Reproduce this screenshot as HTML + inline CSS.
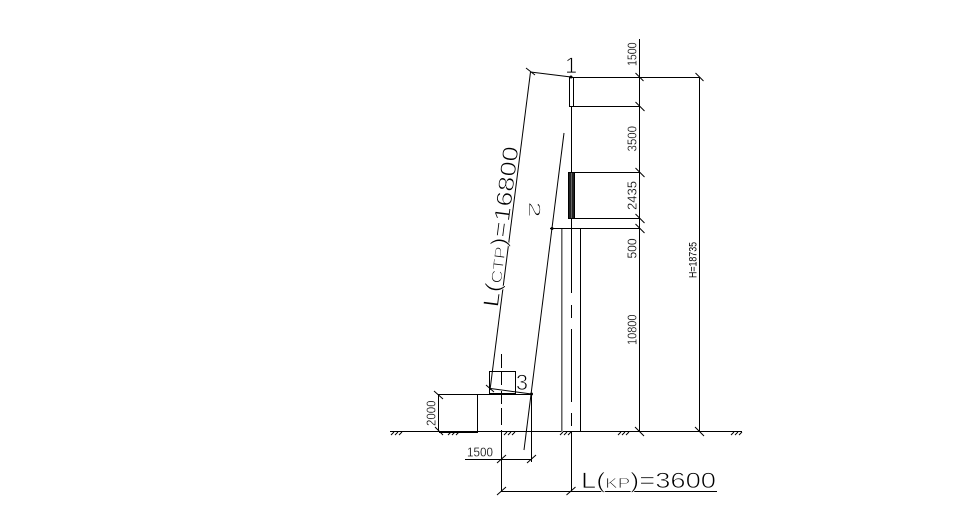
<!DOCTYPE html>
<html><head><meta charset="utf-8"><style>
html,body{margin:0;padding:0;background:#fff}
svg{display:block}
text{font-family:"Liberation Sans",sans-serif;fill:#000}
.t{font-size:12.5px;stroke:#fff;stroke-width:.2px}
.b{font-size:22px;stroke:#fff;stroke-width:.7px}
</style></head><body>
<svg width="980" height="510" viewBox="0 0 980 510" xmlns="http://www.w3.org/2000/svg">
<rect width="980" height="510" fill="#fff"/>
<g stroke="#000" stroke-width="1" fill="none" shape-rendering="crispEdges">
<path d="M390 431.5H742"/>
<path d="M639.5 39V432"/>
<path d="M699.5 77V432"/>
<path d="M571 77.5H700"/>
<path d="M572 106.5H640"/>
<path d="M574 172.5H640"/>
<path d="M574 218.5H640"/>
<path d="M550 228.5H640"/>
<path d="M571.5 107V293M571.5 305V318M571.5 329V402M571.5 413V426M571.5 431V491"/>
<path d="M580.5 229V432"/>
<path d="M561.5 229V432" stroke="#666" stroke-width="1"/>
<path d="M562.5 229V432" stroke="#aaa" stroke-width="1"/>
<rect x="569.5" y="77.5" width="4" height="29"/>
<rect x="568.5" y="172.5" width="6" height="46" fill="#222"/>
<path d="M571.5 173V218" stroke="#666"/>
<rect x="489.5" y="371.5" width="26" height="22"/>
<path d="M439 394.5H531.5M438.5 394V432M477.5 394V432M531.5 394V462"/>
<path d="M439 432.5H478" stroke-width="1"/>
<path d="M501.5 354V368M501.5 372V385M501.5 391V404M501.5 408V425M501.5 430V491"/>
<path d="M465 459.5H532"/>
<path d="M501 491.5H717"/>
</g>
<g stroke="#000" stroke-width="1" fill="none">
<path d="M530.5 72L490 390"/>
<path d="M530.5 72L571 77"/>
<path d="M490.5 388.5L531.5 394"/>
<path d="M564 133L524 450"/>
<!-- ticks -->
<path d="M635.5 73l8 8M635.5 102l9 9M695.5 73l8 8M635.5 168l9 9M635.5 214l9 9M635.5 224l9 9M635 427l9 9M695 427l9 9M434 391l9 8M435 427l8 8M486 385l8 7"/>
<path d="M526 68l9 7M497 463l9 -8M527 463l9 -8M497 495l9 -8M566.5 495l9 -8"/>
<!-- ground hatches -->
<path d="M391 435l3 -3M395 435l3 -3M399 435l3 -3M448 435l3 -3M452 435l3 -3M456 435l3 -3M504 435l3 -3M508 435l3 -3M512 435l3 -3M560 435l3 -3M564 435l3 -3M568 435l3 -3M618 435l3 -3M622 435l3 -3M626 435l3 -3M731 435l3 -3M735 435l3 -3M739 435l3 -3"/>
</g>
<circle cx="571" cy="77" r="1.5" fill="#000"/>
<circle cx="552" cy="228.5" r="1.5" fill="#000"/>
<circle cx="531.5" cy="394" r="1.5" fill="#000"/>
<g>
<text class="t" transform="translate(636.5 66) rotate(-90)" textLength="23.5" lengthAdjust="spacingAndGlyphs">1500</text>
<text class="t" transform="translate(636.5 151.5) rotate(-90)" textLength="25.5" lengthAdjust="spacingAndGlyphs">3500</text>
<text class="t" transform="translate(636.5 210) rotate(-90)" textLength="29" lengthAdjust="spacingAndGlyphs">2435</text>
<text class="t" transform="translate(636.5 258.5) rotate(-90)" textLength="20" lengthAdjust="spacingAndGlyphs">500</text>
<text class="t" transform="translate(636.5 345) rotate(-90)" textLength="30.5" lengthAdjust="spacingAndGlyphs">10800</text>
<text style="font-size:11px" transform="translate(696.5 278) rotate(-90)" textLength="36" lengthAdjust="spacingAndGlyphs">H=18735</text>
<text class="t" transform="translate(435.5 426) rotate(-90)" textLength="25.5" lengthAdjust="spacingAndGlyphs">2000</text>
<text class="t" x="467" y="456.5" textLength="26" lengthAdjust="spacingAndGlyphs">1500</text>
</g>
<text class="b" x="581" y="488" textLength="135" lengthAdjust="spacingAndGlyphs">L(<tspan style="font-size:15px">KP</tspan>)=3600</text>
<text class="b" transform="translate(498 308) rotate(-82.7)" textLength="162" lengthAdjust="spacingAndGlyphs">L(<tspan style="font-size:15px">CTP</tspan>)=16800</text>
<text class="b" x="565" y="73">1</text>
<text class="b" x="516" y="390" textLength="12" lengthAdjust="spacingAndGlyphs">3</text>
<text class="b" style="font-size:17px" transform="translate(529 201.5) rotate(90)" textLength="16" lengthAdjust="spacingAndGlyphs">2</text>
</svg>
</body></html>
